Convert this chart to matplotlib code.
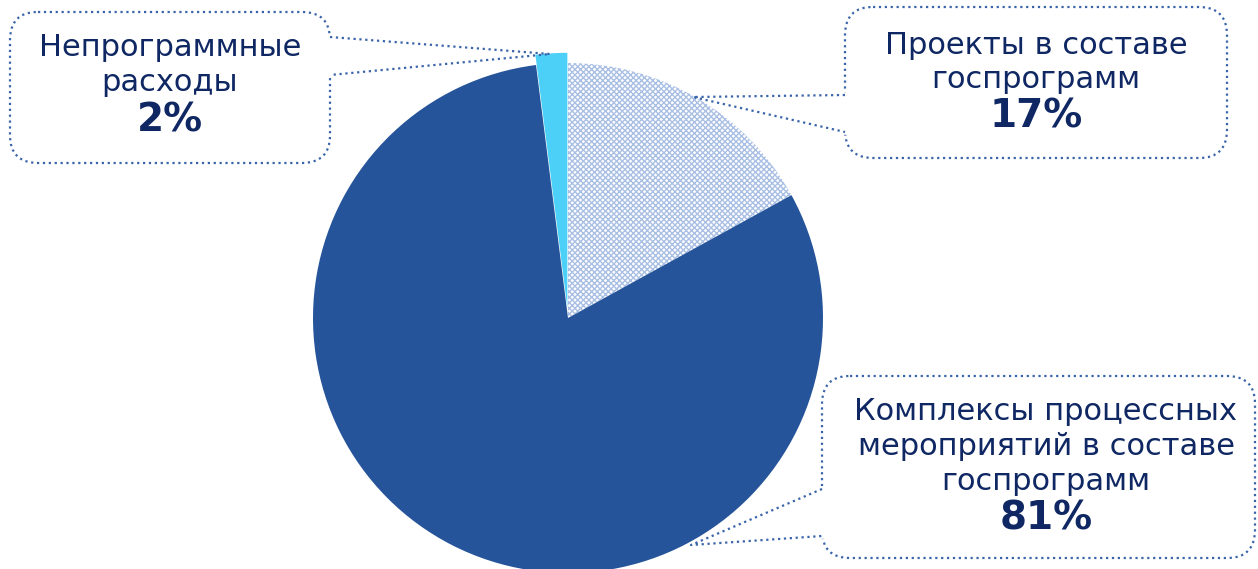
import matplotlib.pyplot as plt
from matplotlib.patches import FancyBboxPatch

# data
labels = ['Проекты в составе\nгоспрограмм',
          'Комплексы процессных\nмероприятий в составе\nгоспрограмм',
          'Непрограммные\nрасходы']
shares = [17, 81, 2]
colors = ['white', '#25549a', '#4dd0f7']
explode = [0, 0, 0.04]

navy = '#0f2763'
dot_col = '#3a64aa'

plt.rcParams['font.family'] = ['DejaVu Sans']

fig = plt.figure(figsize=(12.58, 5.69), dpi=100)

# pie axes: centre (568, 318) px, radius 255 px
L = 1.3
S = 2 * L * 255
ax = fig.add_axes([(568 - S / 2) / 1258, (569 - 318 - S / 2) / 569, S / 1258, S / 569])
wedges, _ = ax.pie(shares, colors=colors, startangle=90, counterclock=False,
                   explode=explode, wedgeprops=dict(linewidth=0))
wedges[0].set_hatch('xxxxxx')
wedges[0].set_edgecolor('#a9bfe4')
wedges[0].set_linewidth(0)
ax.set_xlim(-L, L)
ax.set_ylim(-L, L)
ax.set_aspect('equal')
ax.axis('off')

# overlay axes in pixel units for callouts
ov = fig.add_axes([0, 0, 1, 1], zorder=5)
ov.set_xlim(0, 1258)
ov.set_ylim(569, 0)
ov.axis('off')
ov.patch.set_alpha(0)

callouts = [
    dict(box=(845, 7, 1227, 158), side='left', gap=(95, 132), tip=(693, 97),
         cx=1036, ys=[45, 79], py=116, idx=0),
    dict(box=(822, 376, 1255, 558), side='left', gap=(489, 536), tip=(691, 545),
         cx=1046, ys=[411, 446, 481], py=519, idx=1),
    dict(box=(10, 12, 330, 163), side='right', gap=(37, 75), tip=(550, 54),
         cx=170, ys=[47, 82], py=120, idx=2),
]

for c in callouts:
    x0, y0, x1, y1 = c['box']
    ov.add_patch(FancyBboxPatch((x0, y0), x1 - x0, y1 - y0,
                                boxstyle='round,pad=0,rounding_size=28',
                                fill=False, edgecolor=dot_col, linestyle=':', linewidth=1.6))
    ex = x0 if c['side'] == 'left' else x1
    g0, g1 = c['gap']
    ov.plot([ex, ex], [g0, g1], color='white', linewidth=4, zorder=3)
    tx, ty = c['tip']
    ov.plot([ex, tx, ex], [g0, ty, g1], color=dot_col, linestyle=':', linewidth=1.6, zorder=4)
    for line, y in zip(labels[c['idx']].split('\n'), c['ys']):
        ov.text(c['cx'], y, line, ha='center', va='center', color=navy, fontsize=22)
    ov.text(c['cx'], c['py'], f"{shares[c['idx']]}%", ha='center', va='center',
            color=navy, fontsize=28, fontweight='bold')

plt.savefig('out.png', dpi=100)
